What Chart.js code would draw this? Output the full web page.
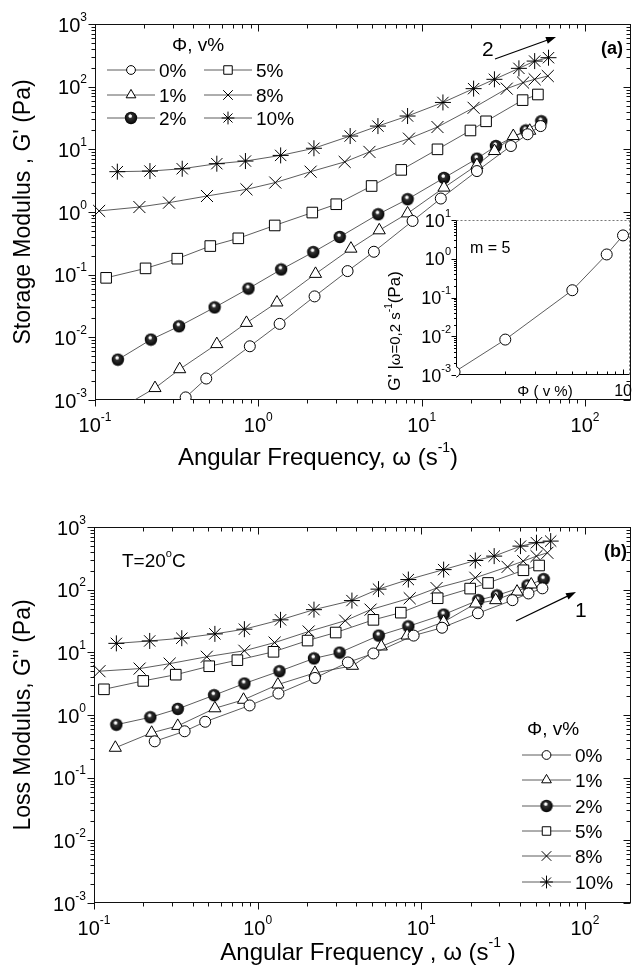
<!DOCTYPE html>
<html>
<head>
<meta charset="utf-8">
<script src="https://cdn.jsdelivr.net/npm/chart.js@4.4.0/dist/chart.umd.min.js"></script>
<style>
html, body { margin:0; padding:0; background:#fff; }
#wrap { position:relative; width:640px; height:968px; overflow:hidden; }
canvas { position:absolute; }
</style>
</head>
<body>
<div id="wrap">
	<canvas id="cA" width="640" height="470" style="left:0; top:0;"></canvas>
	<canvas id="cB" width="640" height="498" style="left:0; top:470px;"></canvas>
	<canvas id="cIn" width="260" height="210" style="left:380px; top:205px;"></canvas>
</div>
<script>
// fraksi volume
const fraksi = ['0%', '1%', '2%', '5%', '8%', '10%']

// G' storage modulus (panel a), w = omega (1/s), g = Pa
const wA0 = [0.22, 0.359, 0.48, 0.887, 1.35, 2.21, 3.52, 5.1, 8.8, 13.1, 21.8, 35.2, 44.5, 53.5]
const gA0 = [0.0004, 0.0011, 0.0022, 0.0072, 0.0164, 0.045, 0.114, 0.232, 0.72, 1.64, 4.5, 11.3, 17.4, 23.5]
const wA1 = [0.138, 0.233, 0.33, 0.557, 0.846, 1.30, 2.24, 3.69, 5.5, 8.2, 13.7, 21.8, 27.9, 36.4, 45.9]
const gA1 = [0.0007, 0.00155, 0.0031, 0.0078, 0.017, 0.036, 0.103, 0.26, 0.51, 0.95, 2.45, 5.6, 9.4, 16.3, 19.8]
const wA2 = [0.138, 0.22, 0.327, 0.54, 0.87, 1.38, 2.17, 3.15, 5.42, 8.2, 13.7, 21.8, 28.5, 43.4, 54]
const gA2 = [0.0044, 0.0092, 0.015, 0.030, 0.060, 0.121, 0.229, 0.40, 0.92, 1.6, 3.5, 7.1, 11.3, 20, 28]
const wA5 = [0.117, 0.204, 0.319, 0.508, 0.754, 1.26, 2.14, 3.0, 4.94, 7.5, 12.5, 19.9, 24.8, 41.5, 51.5]
const gA5 = [0.089, 0.126, 0.18, 0.286, 0.38, 0.61, 0.98, 1.33, 2.6, 4.7, 10, 20, 28, 61, 75]
const wA8 = [0.106, 0.187, 0.284, 0.485, 0.846, 1.27, 2.09, 3.38, 4.79, 8.36, 12.5, 20.8, 33.2, 41.8, 49.2, 59.2]
const gA8 = [1.04, 1.2, 1.41, 1.8, 2.3, 2.95, 4.4, 6.3, 9.1, 14.8, 22.7, 46, 93, 116, 131, 148]
const wA10 = [0.137, 0.217, 0.342, 0.557, 0.834, 1.37, 2.19, 3.65, 5.4, 8.2, 13.5, 20.8, 27.9, 39.4, 49.2, 59.8]
const gA10 = [4.4, 4.5, 4.9, 5.9, 6.5, 8.0, 10.4, 16.3, 23.5, 34, 56, 93, 131, 196, 256, 290]

// G'' loss modulus (panel b)
const wB0 = [0.235, 0.358, 0.478, 0.893, 1.34, 2.24, 3.56, 5.1, 8.98, 13.4, 22.2, 36.1, 45.2, 55]
const gB0 = [0.38, 0.55, 0.78, 1.42, 2.2, 3.9, 6.9, 9.6, 18.5, 24.7, 42, 68, 87, 105]
const wB1 = [0.135, 0.225, 0.325, 0.548, 0.82, 1.33, 2.24, 3.8, 5.7, 8.2, 13.7, 21.5, 28.5, 38.5, 47]
const gB1 = [0.3, 0.52, 0.67, 1.28, 1.75, 3.06, 4.7, 6.1, 12.4, 18.5, 30.6, 60, 68, 93, 121]
const wB2 = [0.137, 0.221, 0.325, 0.542, 0.83, 1.36, 2.21, 3.17, 5.5, 8.34, 13.7, 22.3, 29, 44.6, 56]
const gB2 = [0.7, 0.92, 1.25, 2.07, 3.18, 5.0, 8.0, 9.9, 18.5, 26, 40, 68, 81, 117, 147]
const wB5 = [0.115, 0.2, 0.316, 0.506, 0.752, 1.25, 2.02, 3.0, 5.1, 7.5, 12.6, 19.9, 25.6, 42.1, 52.5]
const gB5 = [2.57, 3.5, 4.4, 6.0, 7.5, 10.2, 15.4, 20.7, 33, 43, 73, 104, 128, 204, 243]
const wB8 = [0.108, 0.19, 0.29, 0.489, 0.83, 1.27, 2.05, 3.43, 4.9, 8.5, 12.4, 21.4, 33.7, 42, 50.6, 59]
const gB8 = [5.0, 5.5, 6.6, 8.5, 10.6, 14.3, 21.5, 32, 48, 73, 106, 155, 231, 285, 343, 387]
const wB10 = [0.137, 0.219, 0.344, 0.548, 0.83, 1.38, 2.21, 3.77, 5.48, 8.34, 13.7, 21.4, 27.9, 40.4, 50.6, 61.8]
const gB10 = [13.9, 15.2, 16.8, 19.7, 23.4, 33, 48, 67, 102, 145, 209, 292, 343, 495, 561, 596]

// inset: G' pada omega = 0.2 terhadap fraksi
const phiIn = [1, 2, 5, 8, 10]
const gIn = [0.0012, 0.0082, 0.154, 1.29, 4.0]

// label sumbu (pangkat 10)
const expX = [-1, 0, 1, 2]
const expY = [-3, -2, -1, 0, 1, 2, 3]
const expYIn = [-3, -2, -1, 0, 1]

const huruf = '"Liberation Sans", Arial, Helvetica, sans-serif'

// bola hitam dengan kilap putih
const bola = (() => {
	const c = document.createElement('canvas')
	c.width = c.height = 14
	const x = c.getContext('2d')
	const g = x.createRadialGradient(6, 4.6, 0.3, 7, 7, 6.6)
	g.addColorStop(0, '#fff')
	g.addColorStop(0.15, '#fff')
	g.addColorStop(0.3, '#333')
	g.addColorStop(1, '#000')
	x.fillStyle = g
	x.beginPath(); x.arc(7, 7, 6.2, 0, Math.PI * 2); x.fill()
	return c
})()

const gaya = [
	{ pointStyle:'circle', pointRadius:5.5 },
	{ pointStyle:'triangle', pointRadius:7 },
	{ pointStyle:bola, pointRadius:6.5 },
	{ pointStyle:'rect', pointRadius:7.5 },
	{ pointStyle:'crossRot', pointRadius:8.5 },
	{ pointStyle:'star', pointRadius:8 },
]

const seri = (w, g, s, label) => ({
	label,
	data: w.map((v, i) => ({ x:v, y:g[i] })),
	borderColor:'#333',
	borderWidth:0.8,
	pointBorderColor:'#000',
	pointBorderWidth:1,
	pointBackgroundColor:'#fff',
	tension:0,
	clip:{ left:10, top:10, right:10, bottom:0 },
	...s
})

// tulis teks dengan superskrip: parts = [[teks, ukuran, dy, tebal]]
const tulis = (ctx, parts, x, y, align = 'left') => {
	let w = 0
	parts.forEach(([t, s, dy, b]) => { ctx.font = `${b ? 'bold ' : ''}${s}px ${huruf}`; w += ctx.measureText(t).width })
	let cx = align == 'center' ? x - w / 2 : align == 'right' ? x - w : x
	parts.forEach(([t, s, dy = 0, b]) => {
		ctx.font = `${b ? 'bold ' : ''}${s}px ${huruf}`
		ctx.fillText(t, cx, y + dy)
		cx += ctx.measureText(t).width
	})
}

const garis = (ctx, x1, y1, x2, y2) => { ctx.beginPath(); ctx.moveTo(x1, y1); ctx.lineTo(x2, y2); ctx.stroke() }

const panah = (ctx, x1, y1, x2, y2) => {
	ctx.strokeStyle = '#000'; ctx.fillStyle = '#000'; ctx.lineWidth = 1.2
	const a = Math.atan2(y2 - y1, x2 - x1)
	garis(ctx, x1, y1, x2 - 6 * Math.cos(a), y2 - 6 * Math.sin(a))
	ctx.beginPath()
	ctx.moveTo(x2, y2)
	ctx.lineTo(x2 - 10 * Math.cos(a) + 3.5 * Math.sin(a), y2 - 10 * Math.sin(a) - 3.5 * Math.cos(a))
	ctx.lineTo(x2 - 10 * Math.cos(a) - 3.5 * Math.sin(a), y2 - 10 * Math.sin(a) + 3.5 * Math.cos(a))
	ctx.closePath(); ctx.fill()
}

const legenda = (c, isi, pj) => {
	const ctx = c.ctx
	isi.forEach(([i, x0, y0]) => {
		const d = c.data.datasets[i]
		ctx.strokeStyle = '#333'; ctx.lineWidth = 0.8
		garis(ctx, x0, y0, x0 + pj, y0)
		ctx.fillStyle = '#fff'; ctx.strokeStyle = '#000'; ctx.lineWidth = 1
		Chart.helpers.drawPoint(ctx, { pointStyle:d.pointStyle, radius:d.pointRadius * 0.8, borderWidth:1, rotation:0 }, x0 + pj / 2, y0)
		ctx.fillStyle = '#000'
		tulis(ctx, [[fraksi[i], 19]], x0 + pj + 4, y0 + 7)
	})
}

// bingkai, tick log dan label 10^n untuk panel utama
const bingkai = {
	id:'bingkai',
	beforeDatasetsDraw(c) {
		const { ctx, chartArea:a, scales:{ x, y } } = c
		ctx.save()
		ctx.strokeStyle = '#111'; ctx.lineWidth = 1
		const L = Math.round(a.left) + .5, R = Math.round(a.right) - .5, T = Math.round(a.top) + .5, B = Math.round(a.bottom) - .5
		ctx.strokeRect(L, T, R - L, B - T)
		for (let n = -4; n <= 3; n++) for (let k = 1; k < 10; k++) {
			const v = k * Math.pow(10, n), p = k == 1 ? 7 : 4
			if (v >= x.min * 0.999 && v <= x.max) {
				const px = Math.round(x.getPixelForValue(v)) + .5
				garis(ctx, px, B, px, B + p); garis(ctx, px, T, px, T + p)
			}
			if (v >= y.min * 0.999 && v <= y.max * 1.001) {
				const py = Math.round(y.getPixelForValue(v)) + .5
				garis(ctx, L - p, py, L, py); garis(ctx, R - p, py, R, py)
			}
		}
		ctx.restore()
	},
	afterDraw(c) {
		const { ctx, chartArea:a, scales:{ x, y } } = c
		ctx.save(); ctx.fillStyle = '#000'
		expX.forEach(n => tulis(ctx, [['10', 20], [String(n), 12, -11]], x.getPixelForValue(Math.pow(10, n)), a.bottom + 32, 'center'))
		expY.forEach(n => tulis(ctx, [['10', 20], [String(n), 12, -11]], a.left - 8, y.getPixelForValue(Math.pow(10, n)) + 7.5, 'right'))
		ctx.restore()
	}
}

const teksA = {
	id:'teksA',
	afterDraw(c) {
		const ctx = c.ctx
		ctx.save(); ctx.fillStyle = '#000'
		ctx.save(); ctx.translate(22, 212); ctx.rotate(-Math.PI / 2)
		tulis(ctx, [["Storage Modulus , G' (Pa)", 23]], 0, 8, 'center')
		ctx.restore()
		tulis(ctx, [['Angular Frequency, \u03c9 (s', 24], ['-1', 14, -13], [')', 24]], 318, 465, 'center')
		tulis(ctx, [['\u03a6, v%', 19]], 172, 51)
		legenda(c, [[0, 107, 70], [1, 107, 95], [2, 107, 118], [3, 204, 70], [4, 204, 95], [5, 204, 118]], 48)
		ctx.fillStyle = '#000'
		tulis(ctx, [['(a)', 18, 0, true]], 601, 54)
		tulis(ctx, [['2', 21]], 482, 56)
		panah(ctx, 495, 59, 556, 37)
		ctx.restore()
	}
}

const teksB = {
	id:'teksB',
	afterDraw(c) {
		const ctx = c.ctx
		ctx.save(); ctx.fillStyle = '#000'
		ctx.save(); ctx.translate(22, 245); ctx.rotate(-Math.PI / 2)
		tulis(ctx, [["Loss Modulus, G'' (Pa)", 23]], 0, 8, 'center')
		ctx.restore()
		tulis(ctx, [['Angular Frequency , \u03c9 (s', 24], ['-1', 14, -13], [' )', 24]], 368, 490, 'center')
		tulis(ctx, [['T=20', 19], ['o', 11, -10], ['C', 19]], 122, 97)
		tulis(ctx, [['(b)', 18, 0, true]], 604, 87)
		panah(ctx, 516, 151, 576, 122)
		ctx.fillStyle = '#000'
		tulis(ctx, [['1', 21]], 575, 147)
		tulis(ctx, [['\u03a6, v%', 19]], 527, 265)
		legenda(c, [[0, 522, 285], [1, 522, 310], [2, 522, 336], [3, 522, 361], [4, 522, 386], [5, 522, 412]], 49)
		ctx.restore()
	}
}

const buatPanel = (el, w, g, pad, teks) => new Chart(el, {
	type:'line',
	data:{ datasets: fraksi.map((f, i) => seri(w[i], g[i], gaya[i], f)) },
	options:{
		responsive:false,
		animation:false,
		events:[],
		layout:{ padding:pad },
		plugins:{ legend:{ display:false }, tooltip:{ enabled:false } },
		scales:{
			x:{ type:'logarithmic', min:0.1, max:190, display:false },
			y:{ type:'logarithmic', min:1e-3, max:1e3, display:false },
		}
	},
	plugins:[bingkai, teks]
})

buatPanel(document.getElementById('cA'),
	[wA0, wA1, wA2, wA5, wA8, wA10], [gA0, gA1, gA2, gA5, gA8, gA10],
	{ left:95, top:24, right:1, bottom:70 }, teksA)

buatPanel(document.getElementById('cB'),
	[wB0, wB1, wB2, wB5, wB8, wB10], [gB0, gB1, gB2, gB5, gB8, gB10],
	{ left:94, top:57, right:1, bottom:65 }, teksB)

// inset
new Chart(document.getElementById('cIn'), {
	type:'line',
	data:{ datasets:[{
		data: phiIn.map((v, i) => ({ x:v, y:gIn[i] })),
		borderColor:'#333', borderWidth:0.8, tension:0,
		pointStyle:'circle', pointRadius:5.5, pointBorderColor:'#000', pointBorderWidth:1, pointBackgroundColor:'#fff',
		clip:{ left:0, top:6, right:6, bottom:6 }
	}] },
	options:{
		responsive:false, animation:false, events:[],
		layout:{ padding:{ left:76, top:15, right:10, bottom:40 } },
		plugins:{ legend:{ display:false }, tooltip:{ enabled:false } },
		scales:{
			x:{ type:'logarithmic', min:1.02, max:11, display:false },
			y:{ type:'logarithmic', min:1e-3, max:10, display:false },
		}
	},
	plugins:[{
		id:'inset',
		beforeDatasetsDraw(c) {
			const { ctx, chartArea:a, scales:{ x, y } } = c
			ctx.save()
			ctx.fillStyle = '#fff'; ctx.fillRect(a.left, a.top, a.right - a.left, a.bottom - a.top)
			const L = Math.round(a.left) + .5, R = Math.round(a.right) - .5, T = Math.round(a.top) + .5, B = Math.round(a.bottom) - .5
			ctx.strokeStyle = '#000'; ctx.lineWidth = 1
			garis(ctx, L, T, L, B); garis(ctx, L, B, R, B)
			ctx.strokeStyle = '#777'; ctx.setLineDash([2, 2])
			garis(ctx, L, T, R, T); garis(ctx, R, T, R, B)
			ctx.setLineDash([]); ctx.strokeStyle = '#000'
			for (let n = -3; n <= 1; n++) for (let k = 1; k < 10; k++) {
				const v = k * Math.pow(10, n)
				if (v <= y.max * 1.001) { const py = Math.round(y.getPixelForValue(v)) + .5; garis(ctx, L - (k == 1 ? 5 : 2.5), py, L, py) }
			}
			for (let k = 2; k <= 10; k++) {
				const px = Math.round(x.getPixelForValue(k)) + .5
				garis(ctx, px, B, px, B - (k == 10 ? 5 : 3))
			}
			ctx.restore()
		},
		afterDraw(c) {
			const { ctx, chartArea:a, scales:{ x, y } } = c
			ctx.save(); ctx.fillStyle = '#000'
			expYIn.forEach(n => tulis(ctx, [['10', 18], [String(n), 11, -10]], a.left - 5, y.getPixelForValue(Math.pow(10, n)) + 6.5, 'right'))
			tulis(ctx, [['10', 16]], x.getPixelForValue(10), 191, 'center')
			tulis(ctx, [['\u03a6 ( v %)', 15]], 165, 191, 'center')
			tulis(ctx, [['m = 5', 16]], 90, 48)
			ctx.translate(14, 126); ctx.rotate(-Math.PI / 2)
			tulis(ctx, [["G' |", 17], ['\u03c9=0,2 s', 15], ['-1', 10, -8], ['(Pa)', 17]], 0, 6, 'center')
			ctx.restore()
		}
	}]
})
</script>
</body>
</html>
